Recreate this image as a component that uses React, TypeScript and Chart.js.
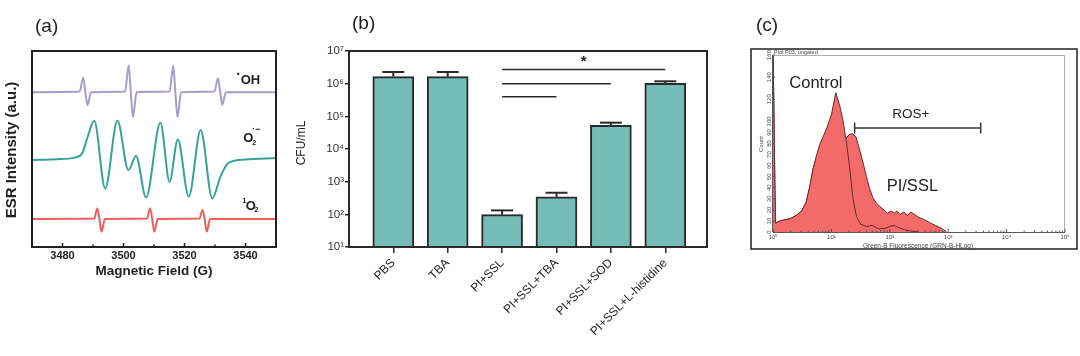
import React, { useEffect, useRef } from 'react';
import { Chart, registerables } from 'chart.js';

Chart.register(...registerables);

const FONT = "'Liberation Sans', Arial, Helvetica, sans-serif";
Chart.defaults.font.family = FONT;
const INK = '#222222';

// ---------------- Panel (a): ESR spectra ----------------
const ESR_FIELD_TICKS = [3480, 3500, 3520, 3540];
const ESR_FIELD_MINOR = [3490, 3510, 3530];

const OH_FIELD = [3470, 3485.6, 3486.8, 3487.5, 3488.2, 3489.4, 3500.5, 3501.7, 3502.4, 3503.1, 3504.3, 3515.1, 3516.3, 3517.0, 3517.7, 3518.9, 3529.8, 3531.0, 3531.7, 3532.4, 3533.6, 3550];
const OH_SIGNAL = [79, 79.3, 86.5, 79, 72.5, 79, 79.3, 92.6, 79, 66.2, 79, 79.3, 92.5, 79, 66.3, 79, 79.3, 86.1, 79, 72.6, 79, 79];

const O2_FIELD = [3470, 3478, 3484, 3486.5, 3488.2, 3490.4, 3494.0, 3498.0, 3501.6, 3504.1, 3507.4, 3512.1, 3515.1, 3517.8, 3521.4, 3525.3, 3529.1, 3531.8, 3534.5, 3540, 3550];
const O2_SIGNAL = [44.4, 44.8, 45.6, 48, 56, 64.4, 29.9, 64.4, 39.3, 46.4, 25.3, 63.4, 33.3, 54.9, 25.7, 59.7, 24.8, 36, 43, 44.6, 45.4];

const SINGLET_FIELD = [3470, 3490.4, 3491.4, 3492.1, 3492.8, 3493.9, 3507.7, 3508.7, 3509.4, 3510.1, 3511.2, 3524.9, 3525.9, 3526.6, 3527.3, 3528.4, 3550];
const SINGLET_SIGNAL = [14.3, 14.5, 19.7, 14.3, 7.8, 14.3, 14.5, 19.8, 14.3, 7.8, 14.3, 14.5, 18.9, 14.3, 7.9, 14.3, 14.3];

// ---------------- Panel (b): CFU/mL ----------------
const GROUPS = ['PBS', 'TBA', 'PI+SSL', 'PI+SSL+TBA', 'PI+SSL+SOD', 'PI+SSL+L-histidine'];
const CFU_MEAN = [1.64e6, 1.64e6, 98, 346, 5.3e4, 1.03e6];
const CFU_UPPER = [2.28e6, 2.28e6, 132, 458, 6.4e4, 1.18e6];
const CFU_DECADES = [1e1, 1e2, 1e3, 1e4, 1e5, 1e6, 1e7];
const SIG_FROM = [2, 2, 2];
const SIG_TO = [5, 4, 3];
const SIG_LEVEL = [2.7e6, 1.0e6, 4.0e5];

// ---------------- Panel (c): flow cytometry ----------------
const CONTROL_FL = [1, 1.1, 1.32, 1.95, 2.5, 3.1, 3.7, 4.3, 4.8, 5.6, 6.3, 7.2, 8.2, 10, 11.9, 13.9, 15.8, 18.2, 20.4, 23.4, 26.9, 31.6, 39.8, 50, 63, 79, 100, 120, 141, 178, 224, 316];
const CONTROL_COUNT = [170, 8, 10, 12, 15, 19, 27, 42, 56, 70, 79, 86, 93, 106, 126, 114, 101, 80, 60, 30, 14, 7, 5, 6, 3, 3, 5, 6, 4, 2, 1, 0];
const PISSL_FL = [1, 1.1, 1.32, 1.95, 2.5, 3.1, 3.7, 4.3, 4.8, 5.6, 6.3, 7.2, 8.2, 10, 11.9, 13.9, 15.8, 17.4, 20, 22.9, 26.3, 30.2, 34.7, 39.8, 44.7, 51.3, 58.9, 67.6, 79.4, 91.2, 105, 120, 132, 151, 174, 200, 229, 263, 316, 363, 427, 501, 603, 724, 832, 933];
const PISSL_COUNT = [170, 8, 10, 12, 15, 19, 27, 42, 56, 68, 72, 74, 73, 72, 72, 75, 79, 84, 88, 89, 86, 75, 63, 50, 40, 31, 26, 23, 20, 17, 19, 17, 19, 16, 18, 15, 18, 16, 13, 12, 10, 8, 6, 4, 2, 0];
const FL_DECADES = [1, 10, 100, 1000, 10000, 100000];
const FL_MINOR_STEPS = [2, 3, 4, 5, 6, 7, 8, 9];
const COUNT_TICKS = [0, 10, 20, 30, 40, 50, 60, 70, 80, 90, 100, 120, 140, 160];
const GATE_RANGE = [25, 3600];
const GATE_COUNT = 94;

// ---------------- helpers ----------------
const SUP = ['⁰', '¹', '²', '³', '⁴', '⁵', '⁶', '⁷', '⁸', '⁹'];
function pow10Label(v: number) {
  const e = Math.round(Math.log10(v));
  return '10' + String(e).split('').map((d) => SUP[+d]).join('');
}

function text(ctx: CanvasRenderingContext2D, s: string, x: number, y: number, font: string, color = INK,
  align: CanvasTextAlign = 'left', baseline: CanvasTextBaseline = 'middle', rot = 0) {
  ctx.save();
  ctx.translate(x, y);
  if (rot) ctx.rotate(rot);
  ctx.font = font;
  ctx.fillStyle = color;
  ctx.textAlign = align;
  ctx.textBaseline = baseline;
  ctx.fillText(s, 0, 0);
  ctx.restore();
}

function seg(ctx: CanvasRenderingContext2D, x1: number, y1: number, x2: number, y2: number) {
  ctx.beginPath();
  ctx.moveTo(x1, y1);
  ctx.lineTo(x2, y2);
  ctx.stroke();
}

const pairs = (xs: number[], ys: number[]) => xs.map((x, i) => ({ x, y: ys[i] }));

// ---------------- Panel (a) ----------------
const esrDecor = {
  id: 'esrDecor',
  afterDraw(chart: any) {
    const { ctx, chartArea: a } = chart;
    const xs = chart.scales.x;
    ctx.save();
    ctx.strokeStyle = INK;
    ctx.lineWidth = 2;
    ctx.strokeRect(a.left, a.top, a.right - a.left, a.bottom - a.top);
    ctx.lineWidth = 1.5;
    ESR_FIELD_TICKS.forEach((v) => { const p = xs.getPixelForValue(v); seg(ctx, p, a.bottom, p, a.bottom - 4); });
    ESR_FIELD_MINOR.forEach((v) => { const p = xs.getPixelForValue(v); seg(ctx, p, a.bottom, p, a.bottom - 2.5); });
    ctx.restore();

    text(ctx, '(a)', 35, 31.5, `19px ${FONT}`, INK, 'left', 'alphabetic');
    text(ctx, 'ESR Intensity (a.u.)', 12, 150, `bold 15px ${FONT}`, INK, 'center', 'middle', -Math.PI / 2);
    // ·OH
    text(ctx, '·', 236.3, 75.5, `bold 14px ${FONT}`);
    text(ctx, 'OH', 240.7, 80.5, `bold 13px ${FONT}`);
    // O2·−
    text(ctx, 'O', 243.3, 138.3, `bold 13px ${FONT}`);
    text(ctx, '2', 252.3, 143, `bold 7px ${FONT}`);
    text(ctx, '·−', 252.3, 130, `bold 9px ${FONT}`);
    // 1O2
    text(ctx, '1', 242.3, 201, `bold 7.5px ${FONT}`);
    text(ctx, 'O', 245.7, 206.5, `bold 13px ${FONT}`);
    text(ctx, '2', 254.5, 210.5, `bold 7px ${FONT}`);
  },
};

function makeEsr(canvas: HTMLCanvasElement) {
  const line = (xs: number[], ys: number[], color: string) => ({
    data: pairs(xs, ys),
    borderColor: color,
    borderWidth: 2,
    pointRadius: 0,
    cubicInterpolationMode: 'monotone' as const,
    fill: false,
  });
  return new Chart(canvas, {
    type: 'line',
    data: {
      datasets: [
        line(OH_FIELD, OH_SIGNAL, '#a99bcb'),
        line(O2_FIELD, O2_SIGNAL, '#36a396'),
        line(SINGLET_FIELD, SINGLET_SIGNAL, '#ee5f5a'),
      ],
    },
    options: {
      animation: false,
      responsive: false,
      events: [],
      layout: { padding: { left: 32, right: 24, top: 51, bottom: 0 } },
      plugins: { legend: { display: false }, tooltip: { enabled: false } },
      scales: {
        x: {
          type: 'linear',
          min: 3470,
          max: 3550,
          afterBuildTicks: (s: any) => { s.ticks = ESR_FIELD_TICKS.map((v) => ({ value: v })); },
          afterFit: (s: any) => { s.height = 53; },
          grid: { display: false, drawTicks: false },
          border: { display: false },
          ticks: {
            callback: (v: any) => String(v),
            font: { family: FONT, size: 11, weight: 'bold' },
            color: INK,
            padding: 2.5,
            maxRotation: 0,
            autoSkip: false,
          },
          title: {
            display: true,
            text: 'Magnetic Field (G)',
            font: { family: FONT, size: 13.5, weight: 'bold' },
            color: INK,
            padding: { top: 0, bottom: 21 },
          },
        },
        y: { type: 'linear', min: 0, max: 100, display: false },
      },
    } as any,
    plugins: [esrDecor],
  });
}

// ---------------- Panel (b) ----------------
const cfuDecor = {
  id: 'cfuDecor',
  afterDatasetsDraw(chart: any) {
    const { ctx, chartArea: a } = chart;
    const xs = chart.scales.x;
    const ys = chart.scales.y;
    ctx.save();
    ctx.strokeStyle = '#2a2a2a';
    ctx.lineWidth = 2;
    CFU_MEAN.forEach((m, i) => {
      const px = xs.getPixelForValue(i);
      const top = ys.getPixelForValue(CFU_UPPER[i]);
      const base = ys.getPixelForValue(m);
      seg(ctx, px, base, px, top);
      seg(ctx, px - 11, top, px + 11, top);
    });
    ctx.strokeRect(a.left, a.top, a.right - a.left, a.bottom - a.top);
    ctx.lineWidth = 1.5;
    SIG_FROM.forEach((f, k) => {
      const yy = ys.getPixelForValue(SIG_LEVEL[k]);
      seg(ctx, xs.getPixelForValue(f), yy, xs.getPixelForValue(SIG_TO[k]), yy);
    });
    ctx.restore();
    const yTop = ys.getPixelForValue(SIG_LEVEL[0]);
    const cx = (xs.getPixelForValue(SIG_FROM[0]) + xs.getPixelForValue(SIG_TO[0])) / 2;
    text(ctx, '*', cx, yTop - 3.5, `bold 15px ${FONT}`, INK, 'center', 'alphabetic');
    text(ctx, '(b)', 62, 29, `19px ${FONT}`, INK, 'left', 'alphabetic');
    text(ctx, 'CFU/mL', 12, 143, `12px ${FONT}`, INK, 'center', 'middle', -Math.PI / 2);
  },
};

function makeCfu(canvas: HTMLCanvasElement) {
  return new Chart(canvas, {
    type: 'bar',
    data: {
      datasets: [{
        data: CFU_MEAN.map((y, i) => ({ x: i, y })),
        backgroundColor: '#74bcb5',
        borderColor: '#2a2a2a',
        borderWidth: 2,
        barThickness: 41,
      }],
    },
    options: {
      animation: false,
      responsive: false,
      events: [],
      layout: { padding: { left: 0, right: 23, top: 51, bottom: 0 } },
      plugins: { legend: { display: false }, tooltip: { enabled: false } },
      scales: {
        x: {
          type: 'linear',
          min: -0.814,
          max: 5.767,
          offset: false,
          afterBuildTicks: (s: any) => { s.ticks = GROUPS.map((_, i) => ({ value: i })); },
          afterFit: (s: any) => { s.height = 109; },
          ticks: {
            callback: (v: any) => GROUPS[Math.round(v)] ?? '',
            minRotation: 45,
            maxRotation: 45,
            autoSkip: false,
            font: { family: FONT, size: 12 },
            color: INK,
            padding: 3,
          },
          grid: { display: true, offset: false, drawOnChartArea: false, drawTicks: true, tickLength: 6, color: '#2a2a2a', lineWidth: 1.5 },
          border: { display: false },
        },
        y: {
          type: 'logarithmic',
          min: 10,
          max: 1e7,
          afterBuildTicks: (s: any) => { s.ticks = CFU_DECADES.map((v) => ({ value: v })); },
          afterFit: (s: any) => { s.width = 59; },
          ticks: { callback: (v: any) => pow10Label(v), font: { family: FONT, size: 11.5 }, color: '#333', padding: 1, autoSkip: false },
          grid: { display: true, offset: false, drawOnChartArea: false, drawTicks: true, tickLength: 4, color: '#2a2a2a', lineWidth: 1.5 },
          border: { display: false },
        },
      },
    } as any,
    plugins: [cfuDecor],
  });
}

// ---------------- Panel (c) ----------------
const facsDecor = {
  id: 'facsDecor',
  afterDraw(chart: any) {
    const { ctx, chartArea: a } = chart;
    const xs = chart.scales.x;
    const ys = chart.scales.y;
    ctx.save();
    ctx.strokeStyle = INK;
    ctx.lineWidth = 1.5;
    ctx.strokeRect(11, 49, 326, 200);
    ctx.lineWidth = 1;
    ctx.strokeStyle = '#b0b0b0';
    seg(ctx, a.left, a.top + 0.5, a.right, a.top + 0.5);
    seg(ctx, a.right - 0.5, a.top, a.right - 0.5, a.bottom);
    ctx.strokeStyle = '#555';
    seg(ctx, a.left, a.bottom + 0.5, a.right, a.bottom + 0.5);
    seg(ctx, a.left - 0.5, a.top, a.left - 0.5, a.bottom);
    FL_DECADES.forEach((d, i) => {
      const p = xs.getPixelForValue(d);
      seg(ctx, p, a.bottom, p, a.bottom - 3);
      if (i < FL_DECADES.length - 1) {
        FL_MINOR_STEPS.forEach((m) => {
          const q = xs.getPixelForValue(d * m);
          seg(ctx, q, a.bottom, q, a.bottom - 1.5);
        });
      }
    });
    COUNT_TICKS.forEach((v) => {
      const p = ys.getPixelForValue(v);
      seg(ctx, a.left, p, a.left + 2, p);
      text(ctx, String(v), 29.5, p, `6px ${FONT}`, '#444', 'center', 'middle', -Math.PI / 2);
    });
    ctx.strokeStyle = '#333';
    ctx.lineWidth = 1.5;
    const g1 = xs.getPixelForValue(GATE_RANGE[0]);
    const g2 = xs.getPixelForValue(GATE_RANGE[1]);
    const gy = ys.getPixelForValue(GATE_COUNT);
    seg(ctx, g1, gy, g2, gy);
    seg(ctx, g1, gy - 5.5, g1, gy + 5.5);
    seg(ctx, g2, gy - 5.5, g2, gy + 5.5);
    ctx.restore();

    text(ctx, '(c)', 16, 30.7, `19px ${FONT}`, INK, 'left', 'alphabetic');
    text(ctx, 'Plot P03, ungated', 34, 52.5, `5.5px ${FONT}`, '#444');
    text(ctx, 'Count', 21, 144, `6px ${FONT}`, '#444', 'center', 'middle', -Math.PI / 2);
    text(ctx, 'Green-B Fluorescence (GRN-B-HLog)', 178, 246.5, `6.5px ${FONT}`, '#444', 'center');
    text(ctx, 'Control', 49.3, 83.3, `16.5px ${FONT}`, INK);
    text(ctx, 'ROS+', 170.8, 114, `13.5px ${FONT}`, INK, 'center');
    text(ctx, 'PI/SSL', 146.7, 186.7, `16.5px ${FONT}`, INK);
  },
};

function makeFacs(canvas: HTMLCanvasElement) {
  const hist = (xs: number[], ys: number[], order: number) => ({
    data: pairs(xs, ys),
    borderColor: '#6a2a2a',
    borderWidth: 1,
    backgroundColor: '#f36a6a',
    fill: 'origin',
    pointRadius: 0,
    tension: 0,
    order,
  });
  return new Chart(canvas, {
    type: 'line',
    data: {
      datasets: [
        hist(CONTROL_FL, CONTROL_COUNT, 0),
        hist(PISSL_FL, PISSL_COUNT, 1),
      ],
    },
    options: {
      animation: false,
      responsive: false,
      events: [],
      layout: { padding: { left: 33, right: 15, top: 55, bottom: 0 } },
      plugins: { legend: { display: false }, tooltip: { enabled: false } },
      scales: {
        x: {
          type: 'logarithmic',
          min: 1,
          max: 1e5,
          afterBuildTicks: (s: any) => { s.ticks = FL_DECADES.map((v) => ({ value: v })); },
          afterFit: (s: any) => { s.height = 68; },
          ticks: { callback: (v: any) => pow10Label(v), font: { family: FONT, size: 6 }, color: '#444', padding: 2, maxRotation: 0, autoSkip: false },
          grid: { display: false, drawTicks: false },
          border: { display: false },
        },
        y: { type: 'linear', min: 0, max: 160, display: false },
      },
    } as any,
    plugins: [facsDecor],
  });
}

export default function App() {
  const refA = useRef<HTMLCanvasElement>(null);
  const refB = useRef<HTMLCanvasElement>(null);
  const refC = useRef<HTMLCanvasElement>(null);

  useEffect(() => {
    const charts = [
      makeEsr(refA.current as HTMLCanvasElement),
      makeCfu(refB.current as HTMLCanvasElement),
      makeFacs(refC.current as HTMLCanvasElement),
    ];
    return () => charts.forEach((c) => c.destroy());
  }, []);

  return (
    <div style={{ position: 'absolute', left: 0, top: 0, width: 1080, height: 356, background: '#ffffff', overflow: 'hidden' }}>
      <canvas ref={refA} width={300} height={300} style={{ position: 'absolute', left: 0, top: 0 }} />
      <canvas ref={refB} width={440} height={356} style={{ position: 'absolute', left: 290, top: 0 }} />
      <canvas ref={refC} width={340} height={300} style={{ position: 'absolute', left: 740, top: 0 }} />
    </div>
  );
}
